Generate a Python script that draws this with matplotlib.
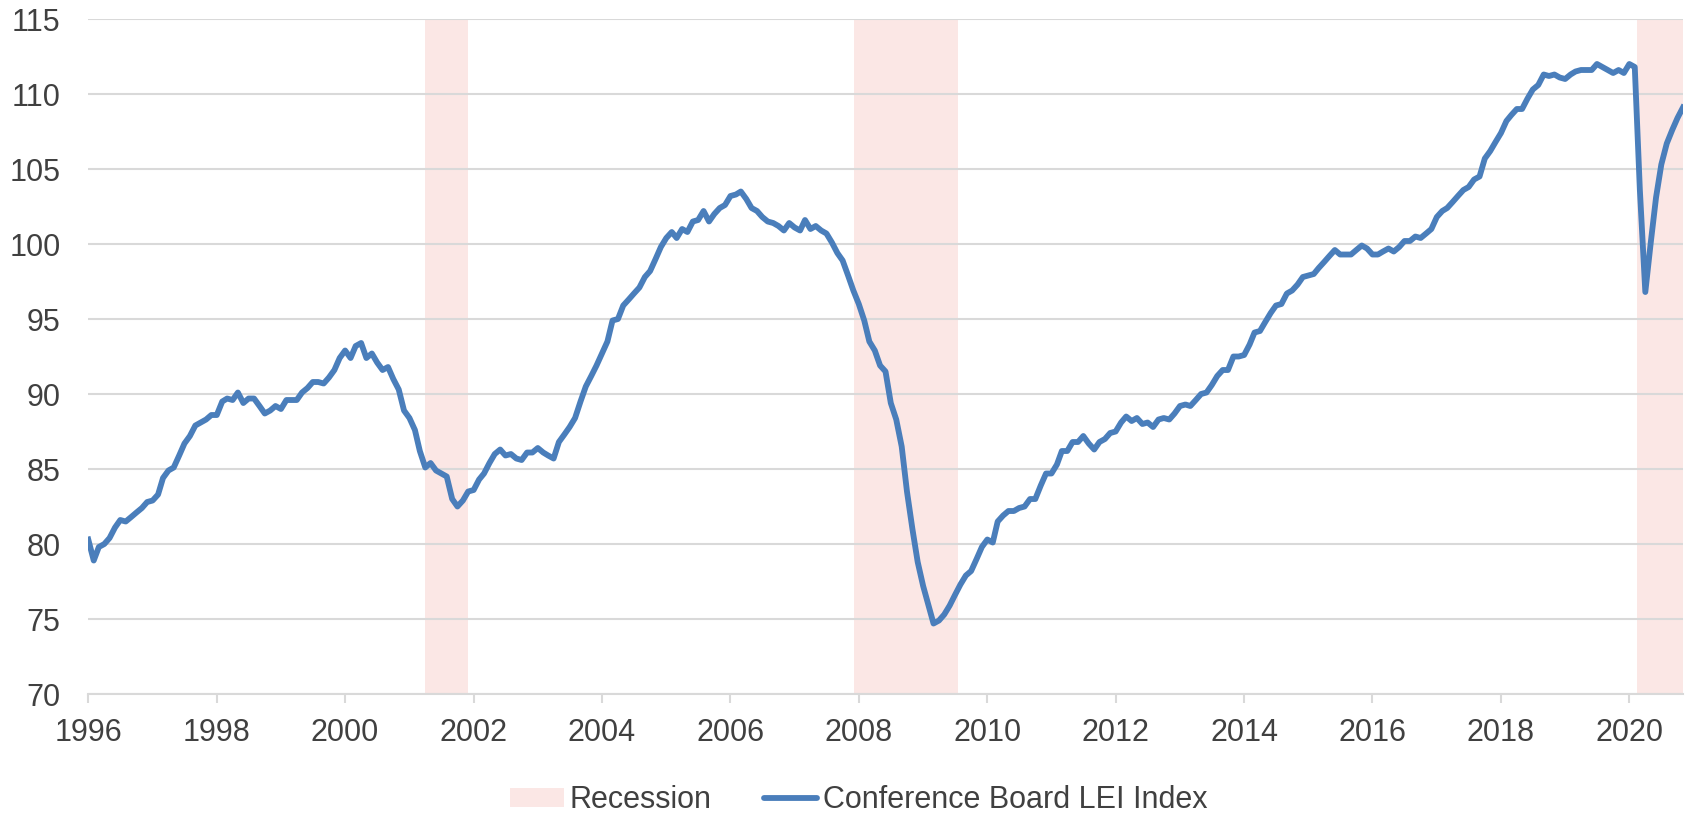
import numpy as np
import pandas as pd
import matplotlib
matplotlib.use("Agg")
import matplotlib.pyplot as plt
import matplotlib.dates as mdates
from matplotlib.patches import Patch
from matplotlib.lines import Line2D

plt.rcParams['font.family'] = ['Liberation Sans', 'DejaVu Sans']

# monthly LEI values, one list per year
lei_1996 = [80.3, 78.9, 79.8, 80.0, 80.4, 81.1, 81.6, 81.5, 81.8, 82.1, 82.4, 82.8]
lei_1997 = [82.9, 83.3, 84.4, 84.9, 85.1, 85.9, 86.7, 87.2, 87.9, 88.1, 88.3, 88.6]
lei_1998 = [88.6, 89.5, 89.7, 89.6, 90.1, 89.4, 89.7, 89.7, 89.2, 88.7, 88.9, 89.2]
lei_1999 = [89.0, 89.6, 89.6, 89.6, 90.1, 90.4, 90.8, 90.8, 90.7, 91.1, 91.6, 92.4]
lei_2000 = [92.9, 92.4, 93.2, 93.4, 92.4, 92.7, 92.1, 91.6, 91.8, 91.0, 90.3, 88.9]
lei_2001 = [88.4, 87.6, 86.2, 85.1, 85.4, 84.9, 84.7, 84.5, 83.0, 82.5, 82.9, 83.5]
lei_2002 = [83.6, 84.3, 84.7, 85.4, 86.0, 86.3, 85.9, 86.0, 85.7, 85.6, 86.1, 86.1]
lei_2003 = [86.4, 86.1, 85.9, 85.7, 86.8, 87.3, 87.8, 88.4, 89.5, 90.5, 91.2, 91.9]
lei_2004 = [92.7, 93.5, 94.9, 95.0, 95.9, 96.3, 96.7, 97.1, 97.8, 98.2, 99.0, 99.8]
lei_2005 = [100.4, 100.8, 100.4, 101.0, 100.8, 101.5, 101.6, 102.2, 101.5, 102.0, 102.4, 102.6]
lei_2006 = [103.2, 103.3, 103.5, 103.0, 102.4, 102.2, 101.8, 101.5, 101.4, 101.2, 100.9, 101.4]
lei_2007 = [101.1, 100.9, 101.6, 101.0, 101.2, 100.9, 100.7, 100.1, 99.4, 98.9, 97.9, 96.9]
lei_2008 = [96.0, 94.9, 93.5, 92.9, 91.9, 91.5, 89.4, 88.3, 86.5, 83.5, 81.0, 78.8]
lei_2009 = [77.2, 75.9, 74.7, 74.9, 75.3, 75.9, 76.6, 77.3, 77.9, 78.2, 79.0, 79.8]
lei_2010 = [80.3, 80.1, 81.5, 81.9, 82.2, 82.2, 82.4, 82.5, 83.0, 83.0, 83.9, 84.7]
lei_2011 = [84.7, 85.3, 86.2, 86.2, 86.8, 86.8, 87.2, 86.7, 86.3, 86.8, 87.0, 87.4]
lei_2012 = [87.5, 88.1, 88.5, 88.2, 88.4, 88.0, 88.1, 87.8, 88.3, 88.4, 88.3, 88.7]
lei_2013 = [89.2, 89.3, 89.2, 89.6, 90.0, 90.1, 90.6, 91.2, 91.6, 91.6, 92.5, 92.5]
lei_2014 = [92.6, 93.3, 94.1, 94.2, 94.8, 95.4, 95.9, 96.0, 96.7, 96.9, 97.3, 97.8]
lei_2015 = [97.9, 98.0, 98.4, 98.8, 99.2, 99.6, 99.3, 99.3, 99.3, 99.6, 99.9, 99.7]
lei_2016 = [99.3, 99.3, 99.5, 99.7, 99.5, 99.8, 100.2, 100.2, 100.5, 100.4, 100.7, 101.0]
lei_2017 = [101.8, 102.2, 102.4, 102.8, 103.2, 103.6, 103.8, 104.3, 104.5, 105.7, 106.2, 106.8]
lei_2018 = [107.4, 108.2, 108.6, 109.0, 109.0, 109.7, 110.3, 110.6, 111.3, 111.2, 111.3, 111.1]
lei_2019 = [111.0, 111.3, 111.5, 111.6, 111.6, 111.6, 112.0, 111.8, 111.6, 111.4, 111.6, 111.4]
lei_2020 = [112.0, 111.8, 103.6, 96.8, 100.0, 103.1, 105.3, 106.7, 107.6, 108.4, 109.1]

lei = (lei_1996 + lei_1997 + lei_1998 + lei_1999 + lei_2000 + lei_2001 + lei_2002
       + lei_2003 + lei_2004 + lei_2005 + lei_2006 + lei_2007 + lei_2008 + lei_2009
       + lei_2010 + lei_2011 + lei_2012 + lei_2013 + lei_2014 + lei_2015 + lei_2016
       + lei_2017 + lei_2018 + lei_2019 + lei_2020)
dates = pd.date_range("1996-01-01", periods=len(lei), freq="MS")

# recession periods (shaded)
rec_start = ["2001-04-01", "2007-12-07", "2020-02-16"]
rec_end = ["2001-12-01", "2009-07-20", "2020-11-01"]

tick_years = list(range(1996, 2021, 2))
y_ticks = [70, 75, 80, 85, 90, 95, 100, 105, 110, 115]

blue = '#4a7ebb'
pink = '#fbe7e5'
grid_c = '#d9d9d9'
txt_c = '#404040'

fig = plt.figure(figsize=(16.88, 8.19), dpi=100)
ax = fig.add_axes([0.0523, 0.1526, 0.9447, 0.8242])

for s, e in zip(rec_start, rec_end):
    ax.axvspan(pd.Timestamp(s), pd.Timestamp(e), color=pink, lw=0, zorder=0.5)

ax.plot(dates, lei, color=blue, lw=4.2, solid_joinstyle='round', zorder=3)

ax.set_ylim(70, 115)
ax.set_yticks(y_ticks)
ax.set_xlim(dates[0], dates[-1])
ax.set_xticks([pd.Timestamp(f"{y}-01-01") for y in tick_years])
ax.xaxis.set_major_formatter(mdates.DateFormatter("%Y"))

ax.grid(axis='y', color=grid_c, lw=1.5, zorder=1)
for side in ['top', 'right', 'left']:
    ax.spines[side].set_visible(False)
ax.spines['bottom'].set_color(grid_c)
ax.spines['bottom'].set_linewidth(1.5)
ax.spines['bottom'].set_zorder(1)

ax.tick_params(axis='x', direction='out', length=6.5, width=1.5, color=grid_c,
               labelsize=22, labelcolor=txt_c, pad=11)
ax.tick_params(axis='y', length=0, labelsize=22, labelcolor=txt_c, pad=20)

handles = [Patch(facecolor=pink, edgecolor='none'),
           Line2D([0], [0], color=blue, lw=4.2, solid_capstyle='round')]
fig.legend(handles, ['Recession', 'Conference Board LEI Index'],
           loc='center', bbox_to_anchor=(0.509, 0.023), ncol=2, frameon=False,
           fontsize=22, labelcolor=txt_c, handlelength=1.75, handleheight=0.55,
           handletextpad=0.2, columnspacing=1.7, borderpad=0)

fig.savefig("out.png", dpi=100)
